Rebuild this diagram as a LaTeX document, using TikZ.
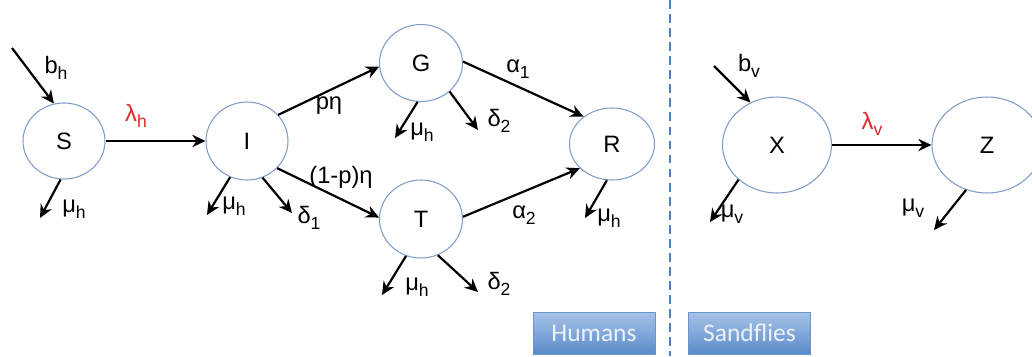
\documentclass[tikz,border=0pt]{standalone}
\usepackage{fontspec}
\setmainfont{Liberation Sans}
\newfontfamily\boxfont{Carlito}
\usetikzlibrary{shapes.geometric,arrows.meta}
\definecolor{ring}{HTML}{7F9CC6}
\definecolor{rate}{HTML}{E02828}
\definecolor{divblue}{HTML}{4F81BD}
\definecolor{boxtop}{HTML}{A7C3E8}
\definecolor{boxbot}{HTML}{5A8BCB}
\definecolor{boxedge}{HTML}{6C95CC}
\definecolor{boxtext}{HTML}{EEF2F8}
\newcommand\sbs[1]{\raisebox{-0.45ex}{\fontsize{10}{11}\selectfont #1}}
\begin{document}
\begin{tikzpicture}[x=0.02cm,y=-0.02cm,
  font=\fontsize{13.5}{15}\selectfont,
  comp/.style={ellipse,draw=ring,line width=0.6pt,fill=white,inner sep=0pt},
  arr/.style={line width=1.25pt,-{Stealth[length=7.5pt,width=7pt]}},
  lab/.style={inner sep=0pt},
  redlab/.style={inner sep=0pt,text=rate},
  grp/.style={draw=boxedge,line width=0.5pt,top color=boxtop,bottom color=boxbot,
    text=boxtext,font=\boxfont\fontsize{14.5}{16}\selectfont,
    minimum width=2.44cm,minimum height=0.84cm,inner sep=0pt},
  divider/.style={draw=divblue,line width=1.3pt,dash pattern=on 5pt off 3pt}]
\useasboundingbox (0,0) rectangle (1032,356);

% compartments
\node[comp,minimum width=1.64cm,minimum height=1.52cm] (S) at (64,141) {S};
\node[comp,minimum width=1.64cm,minimum height=1.56cm] (I) at (247,141) {I};
\node[comp,minimum width=1.66cm,minimum height=1.54cm] (G) at (421,63) {G};
\node[comp,minimum width=1.66cm,minimum height=1.56cm] (T) at (421,219) {T};
\node[comp,minimum width=1.70cm,minimum height=1.44cm] (R) at (612,144) {R};
\node[comp,minimum width=2.18cm,minimum height=1.92cm] (X) at (777,145) {X};
\node[comp,minimum width=2.20cm,minimum height=1.92cm] (Z) at (987,145) {Z};

% free ends
\coordinate (bhs) at (12,48);
\coordinate (Smu) at (40,218);
\coordinate (Imu) at (207,215);
\coordinate (Id1) at (292,213);
\coordinate (Gmu) at (395,138);
\coordinate (Gd2) at (478,130);
\coordinate (Rmu) at (585,218);
\coordinate (Tmu) at (382,295);
\coordinate (Td2) at (478,292);
\coordinate (bvs) at (714,66);
\coordinate (Xmu) at (710,222);
\coordinate (Zmu) at (934,230);

% connectors
\draw[arr] (bhs) -- (S.105);
\draw[arr] (S) -- (I);
\draw[arr] (S.265) -- (Smu);
\draw[arr] (I.245) -- (Imu);
\draw[arr] (I.293) -- (Id1);
\draw[arr] (I.40) -- (G.185);
\draw[arr] (I.318) -- (T.178);
\draw[arr] (G.265) -- (Gmu);
\draw[arr] (G.315) -- (Gd2);
\draw[arr] (G.2) -- (R.136);
\draw[arr] (T.3) -- (R.217);
\draw[arr] (R.262) -- (Rmu);
\draw[arr] (T.248) -- (Tmu);
\draw[arr] (T.295) -- (Td2);
\draw[arr] (bvs) -- (X.122);
\draw[arr] (X) -- (Z);
\draw[arr] (X.222) -- (Xmu);
\draw[arr] (Z.245) -- (Zmu);

% labels
\node[lab] (lbh) at (56,68) {b\sbs{h}};
\node[redlab] (llh) at (136,116) {λ\sbs{h}};
\node[lab] (lSmu) at (74,209) {μ\sbs{h}};
\node[lab] (lImu) at (234,206) {μ\sbs{h}};
\node[lab] (ld1) at (309,218) {δ\sbs{1}};
\node[lab] (lpe) at (329,106) {pη};
\node[lab] (l1pe) at (341,177) {(1-p)η};
\node[lab] (lGmu) at (422,132) {μ\sbs{h}};
\node[lab] (lGd2) at (499,121) {δ\sbs{2}};
\node[lab] (la1) at (518,69) {α\sbs{1}};
\node[lab] (la2) at (524,215) {α\sbs{2}};
\node[lab] (lRmu) at (609,218) {μ\sbs{h}};
\node[lab] (lTmu) at (417,287) {μ\sbs{h}};
\node[lab] (lTd2) at (499,284) {δ\sbs{2}};
\node[lab] (lbv) at (749,66) {b\sbs{v}};
\node[redlab] (llv) at (872,124) {λ\sbs{v}};
\node[lab] (lXmu) at (732,214) {μ\sbs{v}};
\node[lab] (lZmu) at (913,208) {μ\sbs{v}};

% divider and group boxes
\coordinate (dtop) at (670,0);
\coordinate (dbot) at (670,356);
\draw[divider] (dtop) -- (dbot);
\node[grp] (hum) at (594,333) {Humans};
\node[grp] (sand) at (749.5,333) {Sandflies};
\end{tikzpicture}
\end{document}
